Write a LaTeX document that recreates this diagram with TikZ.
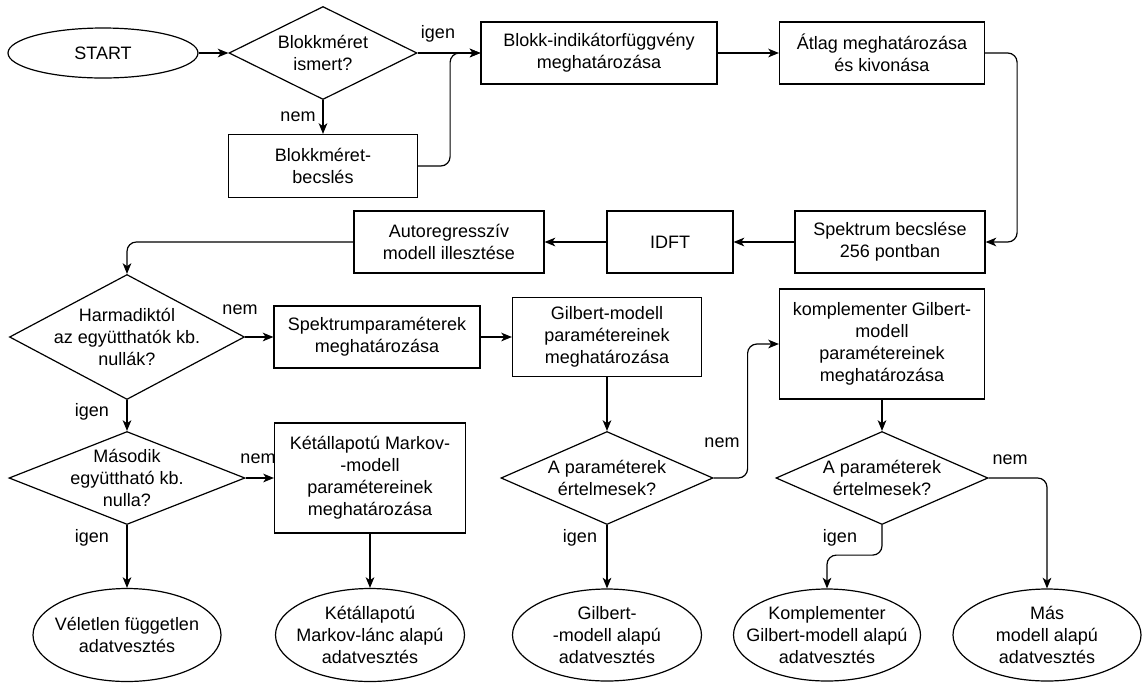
\documentclass[tikz,border=0pt]{standalone}
\usepackage{fontspec}
\setmainfont{Liberation Sans}
\usetikzlibrary{shapes.geometric,arrows.meta}

\tikzset{
  sz/.style 2 args={minimum width=#1*0.75pt, minimum height=#2*0.75pt},
  txt/.style={font=\fontsize{13.5pt}{16.5pt}\selectfont, align=center, inner sep=0pt},
  box/.style={draw, line width=0.9pt, rectangle, txt},
  oval/.style={draw, line width=0.9pt, ellipse, inner sep=0pt},
  dec/.style={draw, line width=0.9pt, diamond, inner sep=0pt},
  arr/.style={line width=0.9pt, -{Stealth[length=8pt,width=6.5pt,inset=2.2pt]}, rounded corners=7pt},
  lbl/.style={txt},
}

\begin{document}
\begin{tikzpicture}[x=0.75pt, y=-0.75pt]
\useasboundingbox (0,0) rectangle (1143,683);

% first row: start, size question, preprocessing
\node[oval, sz={190}{50}] (start) at (103,53) {};
\node[txt] (startt) at (start) {START};
\node[dec, sz={188}{93}] (d1) at (323,53) {};
\node[txt] (d1t) at (d1) {Blokkméret\\ismert?};
\node[box, sz={189}{63}] (bks) at (323,166) {Blokkméret-\\becslés};
\node[box, sz={236}{62}] (bind) at (599,53) {Blokk-indikátorfüggvény\\meghatározása};
\node[box, sz={205}{62}] (atl) at (882,53) {Átlag meghatározása\\és kivonása};

% second row: spectrum, IDFT, AR fit
\node[box, sz={190}{62}] (spk) at (890,242) {Spektrum becslése\\256 pontban};
\node[box, sz={126}{62}] (idft) at (670,242) {IDFT};
\node[box, sz={190}{62}] (ar) at (449,242) {Autoregresszív\\modell illesztése};

% third row
\node[dec, sz={235}{125}] (d2) at (127,337) {};
\node[txt] (d2t) at (d2) {Harmadiktól\\az együtthatók kb.\\nullák?};
\node[box, sz={206}{62}] (spp) at (377,337) {Spektrumparaméterek\\meghatározása};
\node[box, sz={189}{79}] (gil) at (607,337) {Gilbert-modell\\paramétereinek\\meghatározása};
\node[box, sz={205}{110}] (komp) at (882,344) {komplementer Gilbert-\\modell\\paramétereinek\\meghatározása};

% fourth row: decisions
\node[dec, sz={236}{93}] (d3) at (127,478) {};
\node[txt] (d3t) at (d3) {Második\\együttható kb.\\nulla?};
\node[box, sz={191}{110}] (mark) at (370,478) {Kétállapotú Markov-\\-modell\\paramétereinek\\meghatározása};
\node[dec, sz={212}{93}] (d4) at (607,478) {};
\node[txt] (d4t) at (d4) {A paraméterek\\értelmesek?};
\node[dec, sz={212}{93}] (d5) at (882,478) {};
\node[txt] (d5t) at (d5) {A paraméterek\\értelmesek?};

% results
\node[oval, sz={188}{93}] (e1) at (127,635) {};
\node[txt] (e1t) at (e1) {Véletlen független\\adatvesztés};
\node[oval, sz={189}{93}] (e2) at (370,635) {};
\node[txt] (e2t) at (e2) {Kétállapotú\\Markov-lánc alapú\\adatvesztés};
\node[oval, sz={189}{92}] (e3) at (607,635) {};
\node[txt] (e3t) at (e3) {Gilbert-\\-modell alapú\\adatvesztés};
\node[oval, sz={187}{92}] (e4) at (827,635) {};
\node[txt] (e4t) at (e4) {Komplementer\\Gilbert-modell alapú\\adatvesztés};
\node[oval, sz={188}{92}] (e5) at (1047,635) {};
\node[txt] (e5t) at (e5) {Más\\modell alapú\\adatvesztés};

% connectors
\draw[arr] (start.east) -- (d1.west);
\draw[arr] (d1.east) -- (bind.west);
\draw[arr] (d1.south) -- (bks.north);
\draw[arr] (bks.east) -- ++(32,0) |- (bind.west);
\draw[arr] (bind.east) -- (atl.west);
\draw[arr] (atl.east) -- ++(32,0) |- (spk.east);
\draw[arr] (spk.west) -- (idft.east);
\draw[arr] (idft.west) -- (ar.east);
\draw[arr] (ar.west) -| (d2.north);
\draw[arr] (d2.east) -- (spp.west);
\draw[arr] (spp.east) -- (gil.west);
\draw[arr] (d2.south) -- (d3.north);
\draw[arr] (d3.east) -- (mark.west);
\draw[arr] (d3.south) -- (e1.north);
\draw[arr] (mark.south) -- (e2.north);
\draw[arr] (gil.south) -- (d4.north);
\draw[arr] (d4.east) -- ++(34,0) |- (komp.west);
\draw[arr] (d4.south) -- (e3.north);
\draw[arr] (komp.south) -- (d5.north);
\draw[arr] (d5.east) -| (e5.north);
\draw[arr] (d5.south) -- ++(0,30) -| (e4.north);

% branch labels
\node[lbl] (l1) at (438,34) {igen};
\node[lbl] (l2) at (298,117) {nem};
\node[lbl] (l3) at (240,310) {nem};
\node[lbl] (l4) at (92,412) {igen};
\node[lbl] (l5) at (258,459) {nem};
\node[lbl] (l6) at (92,538) {igen};
\node[lbl] (l7) at (722,443) {nem};
\node[lbl] (l8) at (580,538) {igen};
\node[lbl] (l9) at (1010,460) {nem};
\node[lbl] (l10) at (840,538) {igen};
\end{tikzpicture}
\end{document}
